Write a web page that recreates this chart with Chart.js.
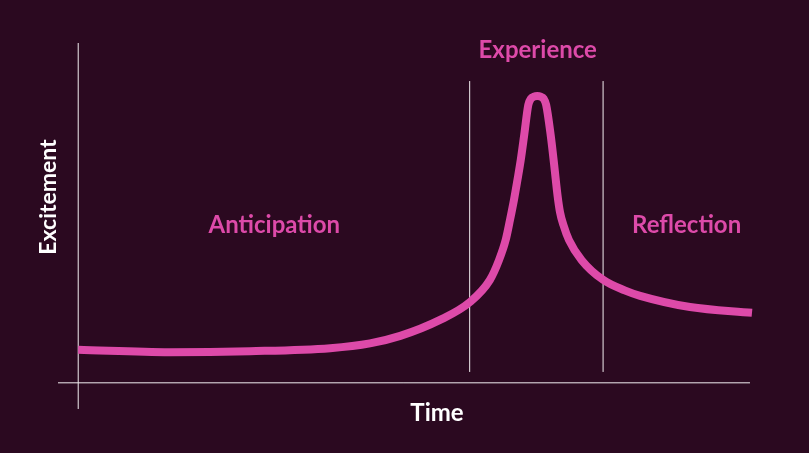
<!DOCTYPE html>
<html>
<head>
<meta charset="utf-8">
<script src="https://cdn.jsdelivr.net/npm/chart.js@4"></script>
<style>
  html, body { margin: 0; padding: 0; background: #2b0920; }
  #wrap { width: 809px; height: 453px; position: relative; }
</style>
</head>
<body>
<div id="wrap"><canvas id="chart"></canvas></div>
<script>
// Excitement curve over time (arbitrary units)
const timeValues = [0, 13.6, 25.5, 37.4, 43.3, 47.8, 53.7, 58.1, 61.11, 62.45, 63.44, 64.08, 64.67, 65.19, 65.68, 66.19, 66.8, 67.18, 67.63, 68.13, 68.64, 69.08, 69.45, 70.12, 70.64, 71.13, 71.5, 72.02, 72.84, 74.72, 77.9, 81.1, 83.4, 90.8, 100];
const excitementValues = [9.7, 9.0, 9.3, 10.2, 11.6, 13.8, 18.5, 23.7, 30.3, 36.1, 42.0, 47.9, 53.8, 59.7, 65.6, 72.9, 81.8, 83.6, 84.2, 84.4, 84.2, 83.6, 81.8, 72.9, 64.1, 55.3, 50.3, 46.4, 42.0, 36.1, 30.3, 27.2, 25.6, 22.3, 20.6];

// Phase boundaries and labels
const phaseBounds = [58.1, 77.9];
const phaseLabels = ["Anticipation", "Experience", "Reflection"];
const phaseLabelX = [29.1, 68.2, 90.3];
const phaseLabelY = [44.1, 95.6, 44.1];

const PINK = "#dd4aa9";
const WHITE = "#f2eef0";

const curve = timeValues.map((t, i) => ({ x: t, y: excitementValues[i] }));

const datasets = [
  {
    data: curve,
    borderColor: PINK,
    borderWidth: 8,
    borderJoinStyle: "round",
    cubicInterpolationMode: "monotone",
    pointRadius: 0,
    clip: false
  },
  // x axis
  { data: [{ x: -3, y: 0 }, { x: 99.7, y: 0 }], borderColor: WHITE, borderWidth: 1, pointRadius: 0, clip: false },
  // y axis
  { data: [{ x: 0, y: -7.7 }, { x: 0, y: 100 }], borderColor: WHITE, borderWidth: 1, pointRadius: 0, clip: false }
];

phaseBounds.forEach(b => {
  datasets.push({ data: [{ x: b, y: 3.2 }, { x: b, y: 88.8 }], borderColor: WHITE, borderWidth: 1, pointRadius: 0, clip: false });
});

// Text labels drawn at data positions
const textPlugin = {
  id: "texts",
  afterDatasetsDraw(chart) {
    const { ctx, scales: { x, y } } = chart;
    ctx.save();
    ctx.textAlign = "center";
    ctx.textBaseline = "alphabetic";
    ctx.fillStyle = PINK;
    ctx.font = "bold 24px Lato";
    phaseLabels.forEach((lab, i) => {
      ctx.fillText(lab, x.getPixelForValue(phaseLabelX[i]), y.getPixelForValue(phaseLabelY[i]));
    });
    ctx.fillStyle = "#ffffff";
    ctx.font = "bold 24px Lato";
    ctx.fillText("Time", 437, 421);
    ctx.font = "bold 23px Lato";
    ctx.translate(56, 197);
    ctx.rotate(-Math.PI / 2);
    ctx.fillText("Excitement", 0, 0);
    ctx.restore();
  }
};

new Chart(document.getElementById("chart"), {
  type: "line",
  data: { datasets },
  options: {
    responsive: true,
    maintainAspectRatio: false,
    animation: false,
    layout: { padding: { left: 58, right: 57, top: 43, bottom: 43 } },
    scales: {
      x: { type: "linear", min: -3, max: 100, display: false },
      y: { min: -8, max: 100, display: false }
    },
    plugins: { legend: { display: false }, tooltip: { enabled: false } }
  },
  plugins: [textPlugin]
});
</script>
</body>
</html>
